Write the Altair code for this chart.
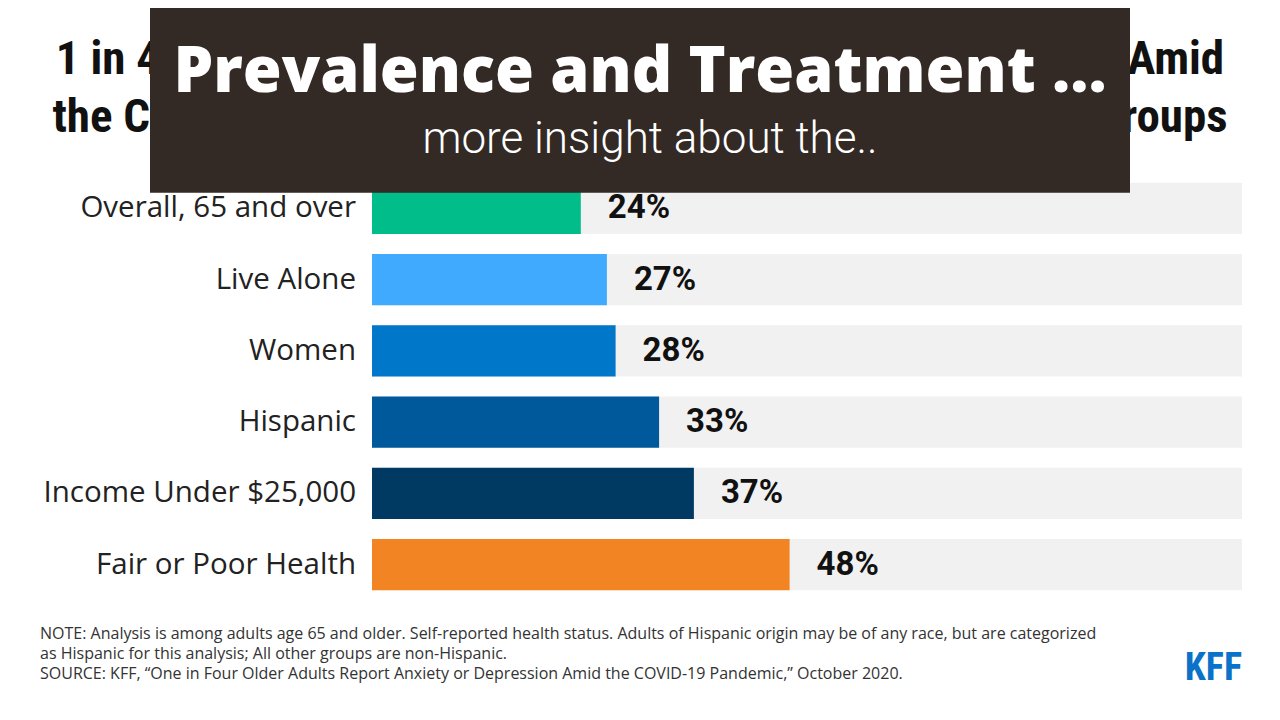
import altair as alt
import pandas as pd

categories = ["Overall, 65 and over", "Live Alone", "Women", "Hispanic",
              "Income Under $25,000", "Fair or Poor Health"]
values = [24, 27, 28, 33, 37, 48]
bar_colors = ["#00bd89", "#40abfe", "#0077c8", "#00599b", "#003a63", "#f38423"]

title_line1 = "1 in 4 Older Adults Have Reported Anxiety or Depression Amid"
title_line2 = "the COVID-19 Pandemic, With Higher Shares in Certain Groups"
overlay_title = "Prevalence and Treatment ..."
overlay_sub = "more insight about the.."
note_lines = [
    "NOTE: Analysis is among adults age 65 and older. Self-reported health status. Adults of Hispanic origin may be of any race, but are categorized",
    "as Hispanic for this analysis; All other groups are non-Hispanic.",
    "SOURCE: KFF, \u201cOne in Four Older Adults Report Anxiety or Depression Amid the COVID-19 Pandemic,\u201d October 2020.",
]
logo_text = "KFF"

df = pd.DataFrame({"cat": categories, "val": values,
                   "lab": [f"{v}%" for v in values]})

W, H = 870, 427.6

y_enc = alt.Y("cat:N", sort=categories, axis=None,
              scale=alt.Scale(paddingInner=0.28, paddingOuter=0.14))
x_scale = alt.Scale(domain=[0, 100], nice=False, zero=True)

base = alt.Chart(df)

bg = base.mark_bar(color="#f1f1f1").encode(
    y=y_enc,
    x=alt.X("zero:Q", scale=x_scale, axis=None),
    x2=alt.datum(100),
).transform_calculate(zero="0")

bars = base.mark_bar().encode(
    y=y_enc,
    x=alt.X("val:Q", scale=x_scale, axis=None),
    color=alt.Color("cat:N", scale=alt.Scale(domain=categories, range=bar_colors), legend=None),
)

val_labels = base.mark_text(
    align="left", baseline="middle", dx=27, font="Roboto", fontWeight="bold",
    fontSize=33, color="#111111",
).encode(y=y_enc, x=alt.X("val:Q", scale=x_scale, axis=None), text="lab:N")

cat_labels = base.mark_text(
    align="right", baseline="middle", font="Open Sans", fontSize=29.5, color="#222222",
).encode(y=y_enc, x=alt.value(-16), text="cat:N")

one = pd.DataFrame({"a": [0]})
cond_font = "Liberation Sans Narrow, Roboto Condensed, DejaVu Sans Condensed, sans-serif"

title1 = alt.Chart(one).mark_text(
    align="center", baseline="alphabetic", font=cond_font, fontWeight="bold",
    fontSize=47, color="#111111", text=title_line1,
).encode(x=alt.value(268), y=alt.value(-98.7))
title2 = alt.Chart(one).mark_text(
    align="center", baseline="alphabetic", font=cond_font, fontWeight="bold",
    fontSize=47, color="#111111", text=title_line2,
).encode(x=alt.value(268), y=alt.value(-40.7))

box = alt.Chart(one).mark_rect(color="#332925").encode(
    x=alt.value(-222), x2=alt.value(758), y=alt.value(-180), y2=alt.value(20))

ov_title = alt.Chart(one).mark_text(
    align="center", baseline="alphabetic", font="Open Sans", fontWeight=800,
    fontSize=63, color="#ffffff", text=overlay_title,
).encode(x=alt.value(268), y=alt.value(-80.7))
ov_sub = alt.Chart(one).mark_text(
    align="center", baseline="alphabetic", font="Roboto", fontWeight=300,
    fontSize=44, color="#ffffff", text=overlay_sub,
).encode(x=alt.value(278), y=alt.value(-19.7))

notes = alt.Chart(one).mark_text(
    align="left", baseline="alphabetic", font="Open Sans", fontSize=16,
    color="#333333", lineHeight=20, text=note_lines,
).encode(x=alt.value(-332), y=alt.value(466))

logo = alt.Chart(one).mark_text(
    align="right", baseline="alphabetic", font=cond_font, fontWeight="bold",
    fontSize=38, color="#0a72c8", text=logo_text,
).encode(x=alt.value(870), y=alt.value(507))

chart = alt.layer(
    bg, bars, val_labels, cat_labels, title1, title2, box, ov_title, ov_sub, notes, logo
).properties(
    width=W, height=H,
    autosize=alt.AutoSizeParams(type="none"),
    padding={"left": 364, "top": 164.7, "right": 30, "bottom": 111.7},
    background="#ffffff",
).configure_view(stroke=None)

chart.save("out.html", embed_options={"renderer": "svg", "actions": False})
